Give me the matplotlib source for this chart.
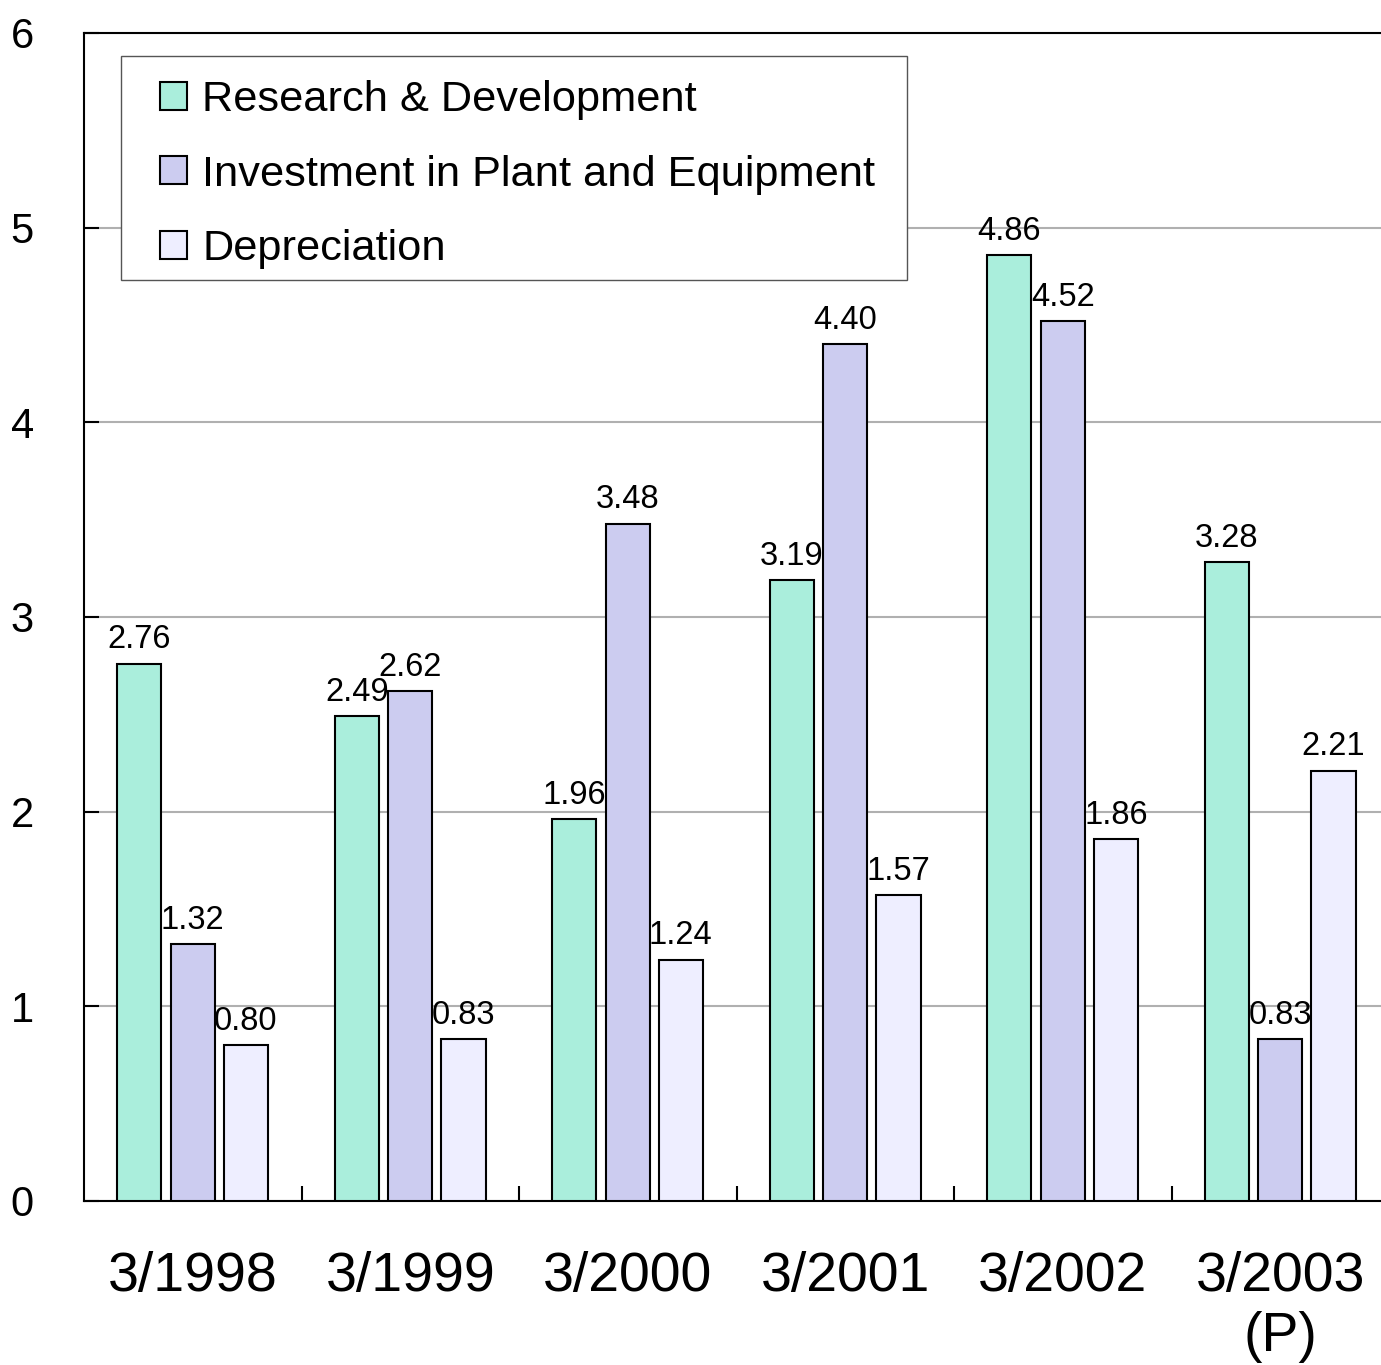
import numpy as np
import matplotlib.pyplot as plt
from matplotlib.patches import Rectangle

plt.rcParams['font.family'] = ['Liberation Sans', 'DejaVu Sans']

periods = ['3/1998', '3/1999', '3/2000', '3/2001', '3/2002', '3/2003\n(P)']
rnd = [2.76, 2.49, 1.96, 3.19, 4.86, 3.28]
capex = [1.32, 2.62, 3.48, 4.40, 4.52, 0.83]
depr = [0.80, 0.83, 1.24, 1.57, 1.86, 2.21]

series = [
    ('Research & Development', rnd, '#aaeedc'),
    ('Investment in Plant and Equipment', capex, '#ccccf0'),
    ('Depreciation', depr, '#eeeeff'),
]

W, H = 1381, 1365
fig = plt.figure(figsize=(W / 100, H / 100), dpi=100)
ax = fig.add_axes([84 / W, 1 - 1201 / H, 1305 / W, 1168 / H])

x = np.arange(len(periods))
width = 0.204
offsets = [-0.246, 0.0, 0.244]

for (name, vals, color), off in zip(series, offsets):
    bars = ax.bar(x + off, vals, width, color=color, edgecolor='black',
                  linewidth=1.5, label=name, zorder=3)
    for b, v in zip(bars, vals):
        ax.annotate(f'{v:.2f}', (b.get_x() + b.get_width() / 2, v),
                    xytext=(0, 6), textcoords='offset points',
                    ha='center', va='bottom', fontsize=23.5, zorder=4)

ax.set_xlim(-0.5, 5.5)
ax.set_ylim(0, 6)
ax.set_yticks(range(7))
ax.yaxis.grid(True, color='#b0b0b0', linewidth=1.5, zorder=0)
ax.set_axisbelow(True)

ax.set_xticks(x)
ax.set_xticklabels(periods, fontsize=40, linespacing=1.2)
ax.set_xticks(np.arange(0.5, 5.0, 1.0), minor=True)
ax.tick_params(axis='x', which='major', length=0, pad=36)
ax.tick_params(axis='x', which='minor', direction='in', length=11, width=1.5)
ax.tick_params(axis='y', direction='in', length=11, width=1.5, pad=36, labelsize=30)

for s in ['left', 'bottom', 'top']:
    ax.spines[s].set_linewidth(1.5)
ax.spines['right'].set_visible(False)

# legend box drawn separately so the inner padding matches
box = Rectangle((121 / W, 1 - 280 / H), 786 / W, 224 / H, transform=fig.transFigure,
                facecolor='white', edgecolor='#555555', linewidth=1.0, zorder=5)
ax.add_patch(box)
box.set_clip_on(False)

leg = ax.legend(loc='upper left', bbox_to_anchor=(160 / W, 1 - 80 / H),
                bbox_transform=fig.transFigure, fontsize=31.2, frameon=False,
                handlelength=0.62, handleheight=0.62, handletextpad=0.36,
                labelspacing=0.8, borderpad=0, borderaxespad=0)
leg.set_zorder(6)
for h in leg.legend_handles:
    h.set_linewidth(1.5)

fig.savefig('out.png', dpi=100)
